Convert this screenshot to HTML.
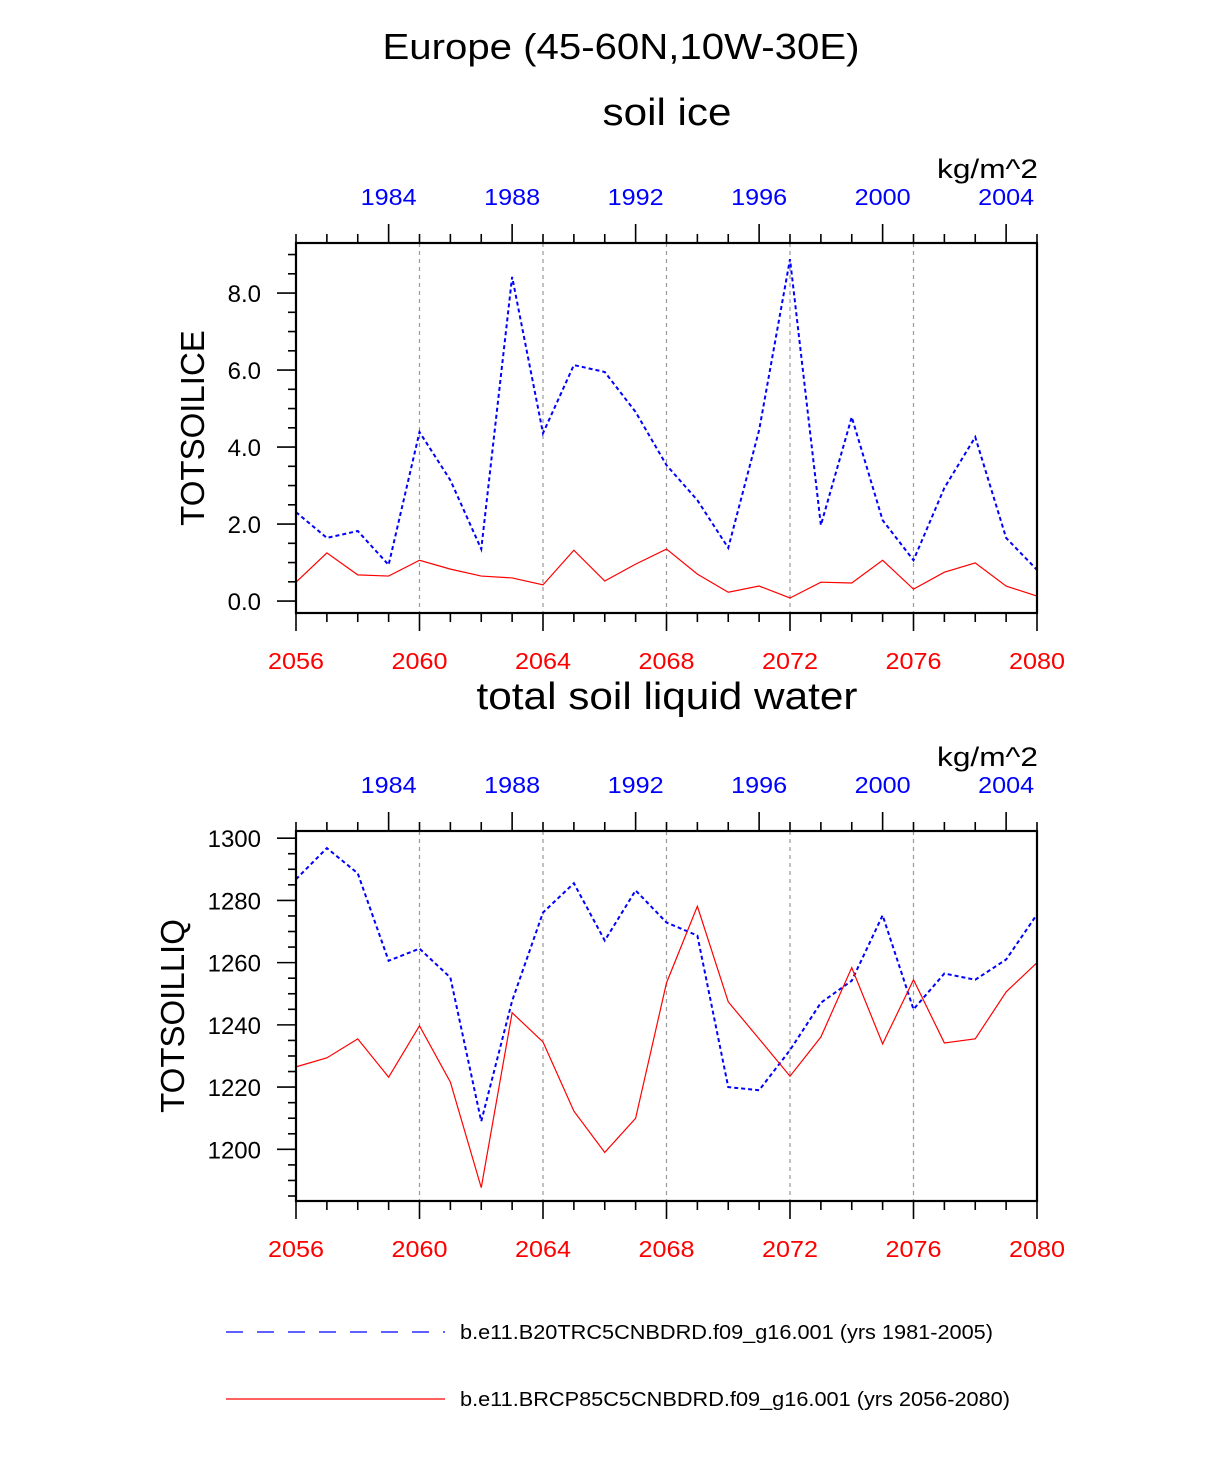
<!DOCTYPE html>
<html><head><meta charset="utf-8">
<style>
html,body{margin:0;padding:0;background:#fff;}
svg{display:block;font-family:"Liberation Sans",Arial,sans-serif;}
</style></head>
<body>
<svg id="chart" width="1224" height="1470" viewBox="0 0 1224 1470" xmlns="http://www.w3.org/2000/svg">
<text x="621" y="59" font-size="36" text-anchor="middle" textLength="477" lengthAdjust="spacingAndGlyphs">Europe (45-60N,10W-30E)</text>
<text x="667" y="125" font-size="38" text-anchor="middle" textLength="129" lengthAdjust="spacingAndGlyphs">soil ice</text>
<text x="667" y="709" font-size="38" text-anchor="middle" textLength="381" lengthAdjust="spacingAndGlyphs">total soil liquid water</text>
<g id="legend">
<line x1="226" y1="1332" x2="445" y2="1332" stroke="#00f" stroke-width="1.3" stroke-dasharray="17,14"/>
<text x="460" y="1339" font-size="20" textLength="533" lengthAdjust="spacingAndGlyphs">b.e11.B20TRC5CNBDRD.f09_g16.001 (yrs 1981-2005)</text>
<line x1="226" y1="1399" x2="445" y2="1399" stroke="#f00" stroke-width="1.3"/>
<text x="460" y="1406" font-size="20" textLength="550" lengthAdjust="spacingAndGlyphs">b.e11.BRCP85C5CNBDRD.f09_g16.001 (yrs 2056-2080)</text>
</g>
</svg>
<script>
const years = [2056,2057,2058,2059,2060,2061,2062,2063,2064,2065,2066,2067,2068,2069,2070,2071,2072,2073,2074,2075,2076,2077,2078,2079,2080];
const iceBlue = [2.31,1.64,1.82,0.94,4.39,3.14,1.35,8.42,4.36,6.13,5.95,4.91,3.53,2.62,1.38,4.44,8.88,1.97,4.78,2.10,1.06,2.94,4.26,1.64,0.81];
const iceRed = [0.49,1.25,0.68,0.65,1.06,0.83,0.65,0.60,0.42,1.32,0.52,0.96,1.35,0.70,0.23,0.39,0.08,0.49,0.47,1.06,0.31,0.75,0.99,0.39,0.13];
const liqBlue = [1286.8,1296.8,1288.7,1260.6,1264.5,1255.2,1209.0,1247.7,1276.1,1285.5,1267.1,1283.2,1272.9,1268.7,1220.0,1219.0,1231.9,1247.1,1254.2,1275.2,1245.0,1256.5,1254.5,1261.0,1275.5];
const liqRed = [1226.5,1229.4,1235.5,1223.2,1239.7,1221.6,1187.7,1243.9,1234.5,1212.3,1199.0,1210.0,1253.5,1278.1,1247.4,1235.5,1223.5,1236.1,1258.4,1233.9,1254.5,1234.2,1235.5,1250.6,1260.0];
const bottomTicks = [2056,2060,2064,2068,2072,2076,2080];
const topTicks = [1984,1988,1992,1996,2000,2004];
const iceTicks = [0,2,4,6,8];
const iceTickLabels = ["0.0","2.0","4.0","6.0","8.0"];
const liqTicks = [1200,1220,1240,1260,1280,1300];
const liqTickLabels = ["1200","1220","1240","1260","1280","1300"];

const NS="http://www.w3.org/2000/svg";
const svg=document.getElementById('chart');
function mk(tag,attrs,parent){const e=document.createElementNS(NS,tag);for(const k in attrs)e.setAttribute(k,attrs[k]);(parent||svg).appendChild(e);return e;}

function panel(name,top,bottom,ymin,ymax,ylab,yticks,ylabels,minorStep,blue,red,ytitleX){
  const L=296,R=1037;
  const x=v=>L+(v-2056)*(R-L)/24;
  const y=v=>top+(ymax-v)*(bottom-top)/(ymax-ymin);
  const g=mk('g',{});
  
  
  bottomTicks.slice(1,-1).forEach(t=>{const l=mk('line',{x1:x(t),x2:x(t),y1:top,y2:bottom,stroke:'#999','stroke-width':1.2,'stroke-dasharray':'4,4'},g);
    
    });
  for(let yr=2056;yr<=2080;yr++){
    const maj=(yr-2056)%4===0, len=maj?18:9;
    mk('line',{x1:x(yr),x2:x(yr),y1:bottom,y2:bottom+len,stroke:'#000','stroke-width':1.6},g);
  }
  for(let yr=1981;yr<=2005;yr++){
    const xx=x(yr+75), maj=yr%4===0, len=maj?19:9;
    mk('line',{x1:xx,x2:xx,y1:top,y2:top-len,stroke:'#000','stroke-width':1.6},g);
  }
  bottomTicks.forEach(t=>{const tx=mk('text',{x:x(t),y:bottom+56,'font-size':23,fill:'#f00','text-anchor':'middle',textLength:56,lengthAdjust:'spacingAndGlyphs'},g);tx.textContent=t;
    
    });
  topTicks.forEach(t=>{const tx=mk('text',{x:x(t+75),y:top-38,'font-size':23,fill:'#00f','text-anchor':'middle',textLength:56,lengthAdjust:'spacingAndGlyphs'},g);tx.textContent=t;
    
    });
  const u=mk('text',{x:1038,y:top-65,'font-size':27,'text-anchor':'end',textLength:101,lengthAdjust:'spacingAndGlyphs'},g);u.textContent='kg/m^2';
  
  
  const start=Math.ceil(ymin/minorStep-1e-9);
  for(let i=start;i*minorStep<=ymax+1e-9;i++){
    const v=i*minorStep;const maj=yticks.some(t=>Math.abs(t-v)<1e-6);const len=maj?19:8;
    mk('line',{x1:L,x2:L-len,y1:y(v),y2:y(v),stroke:'#000','stroke-width':1.6},g);
  }
  yticks.forEach((t,i)=>{const tx=mk('text',{x:261,y:y(t)+9,'font-size':24,'text-anchor':'end'},g);tx.textContent=ylabels[i];
    
    });
  const yt=mk('text',{x:ytitleX,y:(top+bottom)/2,'font-size':33,'text-anchor':'middle',transform:`rotate(-90 ${ytitleX} ${(top+bottom)/2})`},g);yt.textContent=ylab;
  
  
  const pb=mk('polyline',{points:blue.map((v,i)=>x(years[i])+','+y(v)).join(' '),fill:'none',stroke:'#00f','stroke-width':2,'stroke-dasharray':'4,3'},g);
  
  
  const pr=mk('polyline',{points:red.map((v,i)=>x(years[i])+','+y(v)).join(' '),fill:'none',stroke:'#f00','stroke-width':1.2},g);
  
  
  const box=mk('rect',{x:L,y:top,width:R-L,height:bottom-top,fill:'none',stroke:'#000','stroke-width':2.2},g);
  
  
}
panel('soil-ice',243,613,-0.31,9.3,'TOTSOILICE',iceTicks,iceTickLabels,0.5,iceBlue,iceRed,204);
panel('soil-liquid',831,1201,1183.4,1302.3,'TOTSOILLIQ',liqTicks,liqTickLabels,5,liqBlue,liqRed,184);
</script>
</body></html>
